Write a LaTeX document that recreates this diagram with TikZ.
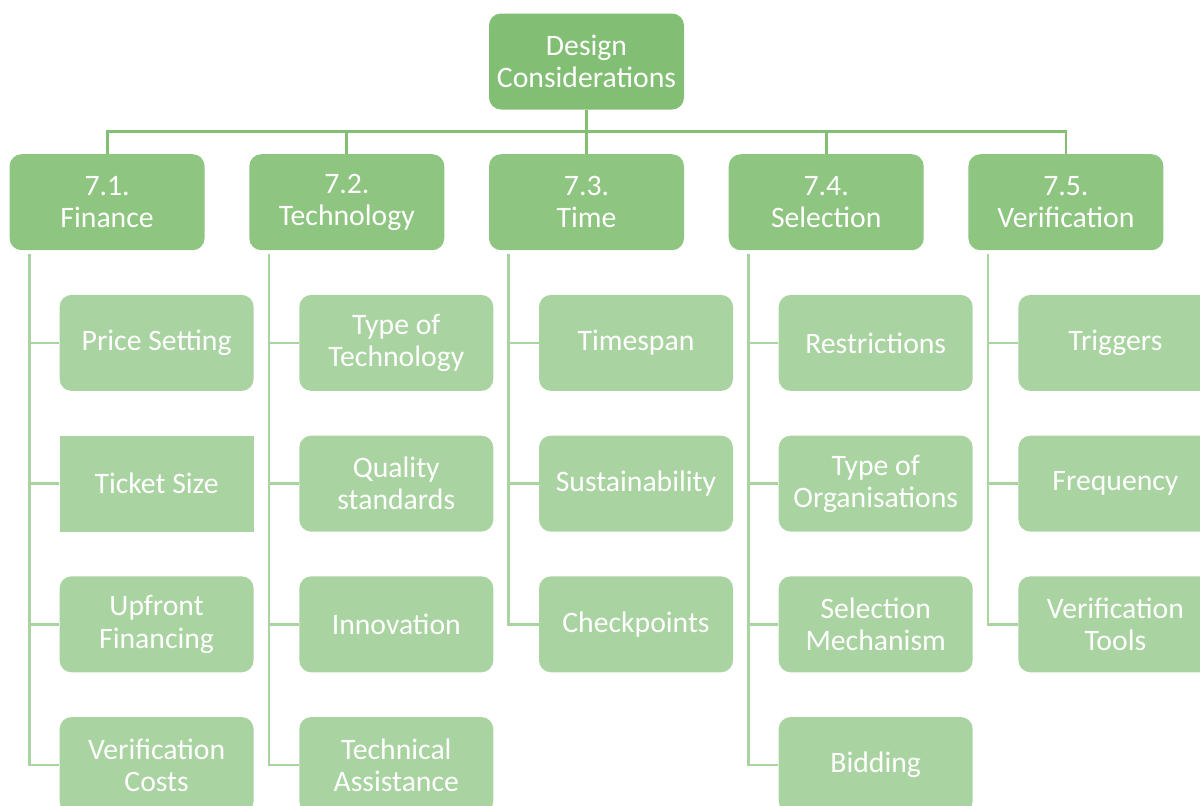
\documentclass[tikz,border=0pt]{standalone}
\usepackage{fontspec}
\setmainfont{Carlito}
\usetikzlibrary{positioning}

\definecolor{rootgreen}{RGB}{130,190,115}
\definecolor{topicgreen}{RGB}{142,197,128}
\definecolor{itemgreen}{RGB}{169,211,160}

\begin{document}
\begin{tikzpicture}[
    node distance=0.88cm,
    box/.style={rounded corners=0.24cm, minimum width=3.9cm, minimum height=1.92cm, align=center,
        text=white, inner sep=2pt, font=\fontsize{16.9}{18.3}\selectfont},
    root/.style={box, fill=rootgreen},
    topic/.style={box, fill=topicgreen},
    item/.style={box, fill=itemgreen, minimum width=3.88cm},
    trunk/.style={draw=rootgreen, line width=1.6pt},
    branch/.style={draw=itemgreen, line width=1.6pt},
]
    \useasboundingbox (0,0) rectangle (24,-16.1);
    \clip (0,0) rectangle (24,-16.1);

    % top of the tree
    \node[root] (design) at (11.73,-1.23) {Design\\Considerations};
    \node[topic, below=of design] (time) {7.3.\\Time};
    \node[topic, left=of time] (technology) {7.2.\\Technology};
    \node[topic, left=of technology] (finance) {7.1.\\Finance};
    \node[topic, right=of time] (selection) {7.4.\\Selection};
    \node[topic, right=of selection] (verification) {7.5.\\Verification};

    % finance
    \node[item, below=of finance.south west, anchor=north west, xshift=1cm] (price) {Price Setting};
    \node[item, sharp corners, below=of price] (ticket) {Ticket Size};
    \node[item, below=of ticket] (upfront) {Upfront\\Financing};
    \node[item, below=of upfront] (vcosts) {Verification\\Costs};

    % technology
    \node[item, below=of technology.south west, anchor=north west, xshift=1cm] (techtype) {Type of\\Technology};
    \node[item, below=of techtype] (quality) {Quality\\standards};
    \node[item, below=of quality] (innovation) {Innovation};
    \node[item, below=of innovation] (assist) {Technical\\Assistance};

    % time
    \node[item, below=of time.south west, anchor=north west, xshift=1cm] (timespan) {Timespan};
    \node[item, below=of timespan] (sustain) {Sustainability};
    \node[item, below=of sustain] (checkpts) {Checkpoints};

    % selection
    \node[item, below=of selection.south west, anchor=north west, xshift=1cm] (restrict) {Restrictions};
    \node[item, below=of restrict] (orgtype) {Type of\\Organisations};
    \node[item, below=of orgtype] (mechanism) {Selection\\Mechanism};
    \node[item, below=of mechanism] (bidding) {Bidding};

    % verification
    \node[item, below=of verification.south west, anchor=north west, xshift=1cm] (triggers) {Triggers};
    \node[item, below=of triggers] (freq) {Frequency};
    \node[item, below=of freq] (vtools) {Verification\\Tools};

    % bus from the root to the five topics
    \draw[trunk] (design) -- (time);
    \draw[trunk] (finance.north) -- ++(0,0.44) -| (verification.north);
    \foreach \t in {technology,selection}
        \draw[trunk] (\t.north) -- ++(0,0.44);

    % spines down each column
    \foreach \t/\last/\rest in {finance/vcosts/{price,ticket,upfront},
                                technology/assist/{techtype,quality,innovation},
                                time/checkpts/{timespan,sustain},
                                selection/bidding/{restrict,orgtype,mechanism},
                                verification/vtools/{triggers,freq}} {
        \coordinate (spine) at ([xshift=0.4cm,yshift=-0.06cm]\t.south west);
        \draw[branch] (spine) |- (\last.west);
        \foreach \c in \rest
            \draw[branch] (\c.west) -- (\c.west -| spine);
    }
\end{tikzpicture}
\end{document}
